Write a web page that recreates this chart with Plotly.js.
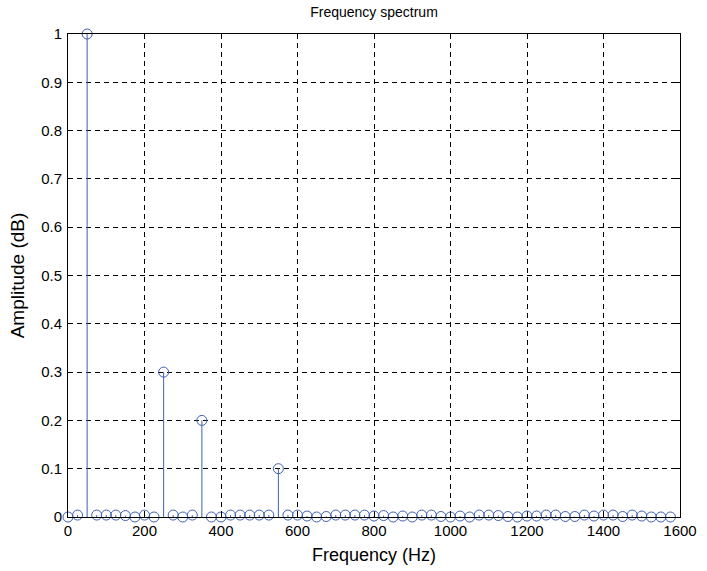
<!DOCTYPE html>
<html>
<head>
<meta charset="utf-8">
<script src="https://cdn.plot.ly/plotly-3.0.1.min.js"></script>
<style>html,body{margin:0;padding:0;background:#fff;}#chart{width:707px;height:571px;}</style>
</head>
<body>
<div id="chart"></div>
<script>
const frequencies = [0,25,50,75,100,125,150,175,200,225,250,275,300,325,350,375,400,425,450,475,500,525,550,575,600,625,650,675,700,725,750,775,800,825,850,875,900,925,950,975,1000,1025,1050,1075,1100,1125,1150,1175,1200,1225,1250,1275,1300,1325,1350,1375,1400,1425,1450,1475,1500,1525,1550,1575];
const amplitudes = [0,0.004,1,0.004,0.004,0.004,0.003,0,0.004,0,0.3,0.004,0,0.004,0.2,0,0,0.004,0.004,0.004,0.004,0.004,0.1,0.004,0.004,0.002,0,0.001,0.004,0.004,0.004,0.004,0.002,0.003,0,0.002,0,0.004,0.004,0.001,0,0.002,0,0.004,0.004,0.003,0.001,0,0.002,0.002,0.004,0.004,0.001,0.001,0.004,0.002,0.004,0.004,0.001,0.004,0.002,0,0,0];
const xTicks = [0,200,400,600,800,1000,1200,1400,1600];
const yTicks = [0,0.1,0.2,0.3,0.4,0.5,0.6,0.7,0.8,0.9,1];
const yTickLabels = ['0','0.1','0.2','0.3','0.4','0.5','0.6','0.7','0.8','0.9','1'];

const stemX = [], stemY = [];
frequencies.forEach((f, i) => { stemX.push(f, f, null); stemY.push(0, amplitudes[i], null); });

const blue = '#3f60b4';
const traces = [
  {x: stemX, y: stemY, type: 'scatter', mode: 'lines', line: {color: blue, width: 1}, hoverinfo: 'skip', cliponaxis: false},
  {x: frequencies, y: amplitudes, type: 'scatter', mode: 'markers',
   marker: {symbol: 'circle-open', size: 10, color: blue, line: {width: 1, color: blue}}, cliponaxis: false}
];
const font = {family: 'Liberation Sans, Arial, sans-serif', size: 15, color: '#000'};
const layout = {
  width: 707, height: 571,
  margin: {l: 68, r: 27, t: 34, b: 54},
  paper_bgcolor: '#fff', plot_bgcolor: '#fff',
  showlegend: false,
  font: font,
  title: {text: 'Frequency spectrum', font: {family: font.family, size: 14, color: '#000'}, x: 0.529, xanchor: 'center', y: 0.988, yanchor: 'top'},
  xaxis: {
    range: [0, 1600], tickvals: xTicks, ticktext: xTicks.map(String),
    showline: true, linecolor: '#000', linewidth: 1, mirror: 'ticks',
    ticks: 'inside', ticklen: 5, tickcolor: '#000',
    showgrid: true, gridcolor: '#000', gridwidth: 1, griddash: '5px,4px',
    zeroline: false, tickfont: {size: 15}, automargin: false,
    title: {text: 'Frequency (Hz)', font: {size: 18}, standoff: 10}
  },
  yaxis: {
    range: [0, 1], tickvals: yTicks, ticktext: yTickLabels,
    showline: true, linecolor: '#000', linewidth: 1, mirror: 'ticks',
    ticks: 'inside', ticklen: 5, tickcolor: '#000', ticklabelstandoff: 2,
    showgrid: true, gridcolor: '#000', gridwidth: 1, griddash: '5px,4px',
    zeroline: false, tickfont: {size: 15}, automargin: false,
    title: {text: 'Amplitude (dB)', font: {size: 19}, standoff: 11}
  }
};
Plotly.newPlot('chart', traces, layout, {displayModeBar: false, staticPlot: true});
</script>
</body>
</html>
